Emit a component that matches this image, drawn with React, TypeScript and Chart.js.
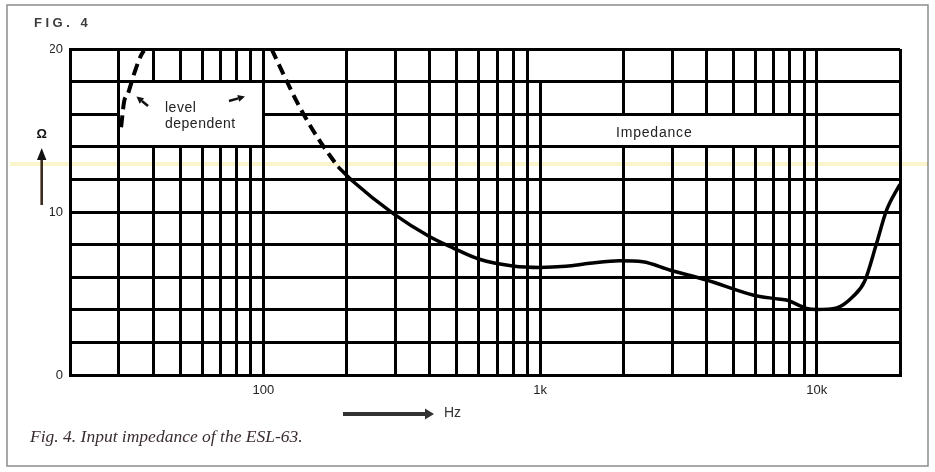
import React, { useEffect, useRef } from 'react';
import { Chart, registerables } from 'chart.js';

Chart.register(...registerables);

// ---- data ----
const xGridHz = [20, 30, 40, 50, 60, 70, 80, 90, 100, 200, 300, 400, 500, 600, 700, 800, 900, 1000, 2000, 3000, 4000, 5000, 6000, 7000, 8000, 9000, 10000, 20000];
const xTickLabels: Record<number, string> = { 100: '100', 1000: '1k', 10000: '10k' };
const yGridOhm = [0, 2, 4, 6, 8, 10, 12, 14, 16, 18, 20];
const yTickLabels = [0, 10, 20];

const impedanceHz = [186, 210, 294, 398, 484, 604, 797, 1000, 1240, 1510, 1940, 2350, 2940, 3990, 5880, 6950, 7770, 9180, 10000, 11800, 13500, 14900, 16440, 17870, 19680, 20000];
const impedanceOhm = [12.78, 11.9, 9.92, 8.5, 7.8, 7.1, 6.69, 6.6, 6.67, 6.85, 7.01, 6.95, 6.44, 5.83, 4.91, 4.7, 4.6, 4.09, 4.02, 4.12, 4.8, 5.75, 8.05, 10.1, 11.5, 11.7];

const levelHighHz = [107, 135, 159, 186];
const levelHighOhm = [20, 16.46, 14.42, 12.78];

const levelLowHz = [30.6, 31.4, 32.3, 33.7, 34.6, 36.1, 37];
const levelLowOhm = [15.2, 16.8, 17.2, 18.2, 18.8, 19.6, 19.9];

const toPts = (xs: number[], ys: number[]) => xs.map((x, i) => ({ x, y: ys[i] }));

const SANS = '"Liberation Sans", Arial, Helvetica, sans-serif';

function arrow(ctx: CanvasRenderingContext2D, x0: number, y0: number, x1: number, y1: number, headLen: number, headW: number, lw: number, color: string) {
  const ang = Math.atan2(y1 - y0, x1 - x0);
  const bx = x1 - headLen * Math.cos(ang);
  const by = y1 - headLen * Math.sin(ang);
  ctx.save();
  ctx.strokeStyle = color;
  ctx.fillStyle = color;
  ctx.lineWidth = lw;
  ctx.beginPath();
  ctx.moveTo(x0, y0);
  ctx.lineTo(bx, by);
  ctx.stroke();
  ctx.beginPath();
  ctx.moveTo(x1, y1);
  ctx.lineTo(bx + headW * Math.sin(ang), by - headW * Math.cos(ang));
  ctx.lineTo(bx - headW * Math.sin(ang), by + headW * Math.cos(ang));
  ctx.closePath();
  ctx.fill();
  ctx.restore();
}

const align = (p: number) => Math.round(p - 1.5); // left edge of 3px aligned grid line

const decor = {
  id: 'decor',
  beforeDraw(chart: any) {
    const ctx = chart.ctx as CanvasRenderingContext2D;
    ctx.save();
    ctx.fillStyle = '#ffffff';
    ctx.fillRect(0, 0, chart.width, chart.height);
    ctx.strokeStyle = '#8c8c8c';
    ctx.lineWidth = 1.5;
    ctx.strokeRect(7, 5, 921, 461);
    ctx.restore();
  },
  beforeDatasetsDraw(chart: any) {
    const xs = chart.scales.x;
    const ys = chart.scales.y;
    const ctx = chart.ctx as CanvasRenderingContext2D;
    ctx.save();
    ctx.fillStyle = '#ffffff';
    const box = (x0: number, x1: number, y0: number, y1: number) => {
      const l = align(xs.getPixelForValue(x0)) + 3;
      const r = align(xs.getPixelForValue(x1));
      const t = align(ys.getPixelForValue(y1)) + 3;
      const b = align(ys.getPixelForValue(y0));
      ctx.fillRect(l, t, r - l, b - t);
    };
    box(30, 100, 14, 18);
    box(1000, 9000, 14, 16);
    // gap of the 1k line in the top row
    const p = align(xs.getPixelForValue(1000));
    const t = align(ys.getPixelForValue(20)) + 3;
    const b = align(ys.getPixelForValue(18));
    ctx.fillRect(p - 0.5, t, 4, b - t);
    ctx.restore();
  },
  afterDraw(chart: any) {
    const ctx = chart.ctx as CanvasRenderingContext2D;
    ctx.save();
    // annotations
    ctx.fillStyle = '#222';
    ctx.textBaseline = 'alphabetic';
    ctx.textAlign = 'left';
    ctx.font = `14px ${SANS}`;
    (ctx as any).letterSpacing = '0.5px';
    ctx.fillText('level', 165, 112);
    ctx.fillText('dependent', 165, 127.5);
    (ctx as any).letterSpacing = '0.8px';
    ctx.fillText('Impedance', 616, 137);

    arrow(ctx, 148, 106, 136.5, 96.5, 7, 3.5, 2.5, '#111');
    arrow(ctx, 229, 101, 245, 96.5, 7, 3.5, 2.5, '#111');

    // FIG. 4
    (ctx as any).letterSpacing = '3.5px';
    ctx.font = `600 13px ${SANS}`;
    ctx.fillStyle = '#3c3c3c';
    ctx.fillText('FIG. 4', 34, 27);

    // y unit with arrow
    (ctx as any).letterSpacing = '0px';
    ctx.font = `bold 13px ${SANS}`;
    ctx.fillStyle = '#111';
    ctx.textAlign = 'center';
    ctx.fillText('Ω', 41.7, 137.5);
    ctx.fillStyle = '#3d2b22';
    ctx.fillRect(40.4, 158, 2.6, 47);
    ctx.fillStyle = '#111';
    ctx.beginPath();
    ctx.moveTo(41.7, 148);
    ctx.lineTo(37, 160);
    ctx.lineTo(46.4, 160);
    ctx.closePath();
    ctx.fill();

    // x unit with arrow
    ctx.strokeStyle = '#333';
    ctx.lineWidth = 4;
    ctx.beginPath();
    ctx.moveTo(343, 414);
    ctx.lineTo(427, 414);
    ctx.stroke();
    ctx.fillStyle = '#333';
    ctx.beginPath();
    ctx.moveTo(434, 414);
    ctx.lineTo(425, 408.5);
    ctx.lineTo(425, 419.5);
    ctx.closePath();
    ctx.fill();
    ctx.textAlign = 'left';
    ctx.textBaseline = 'middle';
    ctx.font = `14px ${SANS}`;
    ctx.fillText('Hz', 444, 413);

    // caption
    ctx.textBaseline = 'alphabetic';
    ctx.font = `italic 17.5px "Liberation Serif", "Times New Roman", serif`;
    ctx.fillStyle = '#3a2d33';
    ctx.fillText('Fig. 4. Input impedance of the ESL-63.', 30, 442);

    // faint scan tint band
    ctx.globalCompositeOperation = 'multiply';
    ctx.fillStyle = 'rgb(250,245,205)';
    ctx.fillRect(10, 162, 918, 4);
    ctx.restore();
  },
};

export default function App() {
  const ref = useRef<HTMLCanvasElement | null>(null);
  useEffect(() => {
    if (!ref.current) return;
    const chart = new Chart(ref.current, {
      type: 'line',
      data: {
        datasets: [
          {
            label: 'Impedance',
            data: toPts(impedanceHz, impedanceOhm),
            borderColor: '#000',
            borderWidth: 3.5,
            pointRadius: 0,
            cubicInterpolationMode: 'monotone',
            fill: false,
          },
          {
            label: 'level dependent (high)',
            data: toPts(levelHighHz, levelHighOhm),
            borderColor: '#000',
            borderWidth: 4,
            borderDash: [11, 6],
            pointRadius: 0,
            cubicInterpolationMode: 'monotone',
            fill: false,
          },
          {
            label: 'level dependent (low)',
            data: toPts(levelLowHz, levelLowOhm),
            borderColor: '#000',
            borderWidth: 4,
            borderDash: [12, 6],
            pointRadius: 0,
            cubicInterpolationMode: 'monotone',
            fill: false,
          },
        ],
      },
      options: {
        responsive: false,
        animation: false,
        devicePixelRatio: 1,
        layout: { padding: { left: 50, right: 35, top: 49, bottom: 71 } },
        plugins: { legend: { display: false }, tooltip: { enabled: false } },
        scales: {
          x: {
            type: 'logarithmic',
            min: 20,
            max: 20000,
            afterBuildTicks: (scale: any) => {
              scale.ticks = xGridHz.map((v) => ({ value: v }));
            },
            afterFit: (scale: any) => {
              scale.height = 26;
            },
            ticks: {
              autoSkip: false,
              maxRotation: 0,
              padding: 8,
              color: '#222',
              font: { family: SANS, size: 13 },
              callback: (v: any) => xTickLabels[Number(v)] ?? '',
            },
            grid: { color: '#000', lineWidth: 3, drawTicks: false },
            border: { display: true, color: '#000', width: 3 },
          },
          y: {
            type: 'linear',
            min: 0,
            max: 20,
            afterBuildTicks: (scale: any) => {
              scale.ticks = yGridOhm.map((v) => ({ value: v }));
            },
            afterFit: (scale: any) => {
              scale.width = 20;
            },
            ticks: {
              autoSkip: false,
              padding: 7,
              color: '#222',
              font: { family: SANS, size: 13 },
              callback: (v: any) => (yTickLabels.includes(Number(v)) ? String(v) : ''),
            },
            grid: { color: '#000', lineWidth: 3, drawTicks: false },
            border: { display: true, color: '#000', width: 3 },
          },
        },
      } as any,
      plugins: [decor],
    });
    return () => chart.destroy();
  }, []);

  return (
    <div style={{ position: 'absolute', left: 0, top: 0, width: 935, height: 472 }}>
      <canvas ref={ref} width={935} height={472} style={{ display: 'block', width: 935, height: 472 }} />
    </div>
  );
}
